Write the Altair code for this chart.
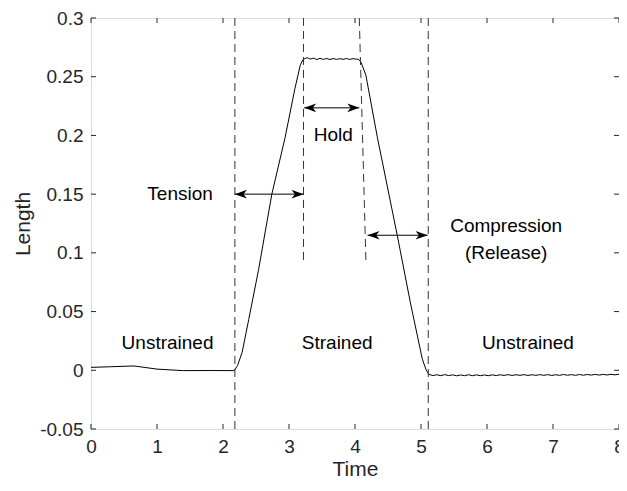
import altair as alt
import pandas as pd

# ---- curve data ----
curve_t = [0.0, 0.3, 0.65, 1.0, 1.4, 1.8, 2.17,
           2.22, 2.29, 2.39, 2.54, 2.74, 2.94, 3.09, 3.17, 3.21, 3.24,
           3.28, 3.32, 3.37, 3.42, 3.47, 3.52, 3.57, 3.62, 3.67, 3.72, 3.77, 3.82, 3.87, 3.92, 3.97, 4.02, 4.05,
           4.09, 4.165, 4.34, 4.64, 4.84, 5.02, 5.08, 5.12,
           5.18, 5.24, 5.30, 5.36, 5.42, 5.48, 5.54, 5.60, 5.66, 5.72, 5.78, 5.84, 5.90, 5.96,
           6.02, 6.08, 6.14, 6.20, 6.26, 6.32, 6.38, 6.44, 6.50, 6.56, 6.62, 6.68, 6.74, 6.80,
           6.86, 6.92, 6.98, 7.04, 7.10, 7.16, 7.22, 7.28, 7.34, 7.40, 7.46, 7.52, 7.58, 7.64,
           7.70, 7.76, 7.82, 7.88, 7.94, 8.0]
curve_y = [0.0025, 0.003, 0.0037, 0.0010, -0.0003, -0.0002, -0.0003,
           0.004, 0.0152, 0.0433, 0.086, 0.150, 0.198, 0.240, 0.2597, 0.2645, 0.2655,
           0.2662, 0.2650, 0.2658, 0.2646, 0.2657, 0.2647, 0.2656, 0.2646, 0.2655, 0.2647, 0.2654, 0.2648, 0.2655, 0.2647, 0.2654, 0.2649, 0.2650,
           0.2625, 0.2513, 0.198, 0.115, 0.0573, 0.0095, 0.000, -0.0035,
           -0.0045, -0.0038, -0.0046, -0.0037, -0.0045, -0.0039, -0.0047, -0.0040, -0.0046, -0.0038, -0.0046, -0.0039, -0.0046, -0.0040,
           -0.0046, -0.0039, -0.0045, -0.0038, -0.0044, -0.0037, -0.0044, -0.0038, -0.0043, -0.0037, -0.0044, -0.0038, -0.0043, -0.0037,
           -0.0043, -0.0037, -0.0044, -0.0038, -0.0043, -0.0036, -0.0042, -0.0037, -0.0043, -0.0036, -0.0042, -0.0036, -0.0041, -0.0035,
           -0.0041, -0.0035, -0.0040, -0.0034, -0.0039, -0.0033]

# ---- dashed marker lines (bottom point -> top point) ----
dash_x1 = [2.18, 3.22, 4.165, 5.11]
dash_y1 = [-0.05, 0.094, 0.094, -0.05]
dash_x2 = [2.18, 3.22, 4.065, 5.11]
dash_y2 = [0.3, 0.3, 0.3, 0.3]

# ---- double-headed arrows ----
arrow_x1 = [2.18, 3.23, 4.19]
arrow_x2 = [3.22, 4.065, 5.10]
arrow_y = [0.150, 0.2235, 0.115]

# ---- annotation texts ----
label_text = ["Tension", "Hold", "Compression", "(Release)", "Unstrained", "Strained", "Unstrained"]
label_x = [1.35, 3.67, 6.29, 6.29, 1.16, 3.73, 6.62]
label_y = [0.150, 0.2005, 0.1225, 0.1003, 0.0236, 0.0236, 0.0236]

# ---- ticks ----
x_ticks = [0, 1, 2, 3, 4, 5, 6, 7, 8]
y_ticks = [-0.05, 0, 0.05, 0.1, 0.15, 0.2, 0.25, 0.3]

FONT = "Liberation Sans"
AX = "#262626"
W, H = 528, 411

xs = alt.Scale(domain=[0, 8], nice=False, zero=False)
ys = alt.Scale(domain=[-0.05, 0.3], nice=False, zero=False)

curve_df = pd.DataFrame({"t": curve_t, "v": curve_y})
dash_df = pd.DataFrame({"x1": dash_x1, "y1": dash_y1, "x2": dash_x2, "y2": dash_y2})
arrow_df = pd.DataFrame({"x1": arrow_x1, "x2": arrow_x2, "y": arrow_y})
heads_df = pd.DataFrame({
    "x": arrow_x1 + arrow_x2,
    "y": arrow_y + arrow_y,
    "dir": ["L"] * len(arrow_x1) + ["R"] * len(arrow_x2),
})
text_df = pd.DataFrame({"txt": label_text, "x": label_x, "y": label_y})
xt_df = pd.DataFrame({"t": x_ticks})
yt_df = pd.DataFrame({"t": y_ticks})

base_x_axis = alt.Axis(values=x_ticks, ticks=False, tickSize=0, domain=False, grid=False,
                       labelFont=FONT, labelFontSize=19, labelColor=AX, labelPadding=8,
                       labelExpr="'' + datum.value", labelFlush=False,
                       title="Time", titleFont=FONT, titleFontSize=21, titleFontWeight="normal",
                       titleColor=AX, titleBaseline="alphabetic", titleY=46)
base_y_axis = alt.Axis(values=y_ticks, ticks=False, tickSize=0, domain=False, grid=False,
                       labelFont=FONT, labelFontSize=19, labelColor=AX, labelPadding=8,
                       labelExpr="'' + datum.value",
                       title="Length", titleFont=FONT, titleFontSize=21, titleFontWeight="normal",
                       titleColor=AX, titlePadding=6)

curve = alt.Chart(curve_df).mark_line(color="black", strokeWidth=1).encode(
    x=alt.X("t:Q", scale=xs, axis=base_x_axis),
    y=alt.Y("v:Q", scale=ys, axis=base_y_axis),
    order="t:Q",
)

dashes = alt.Chart(dash_df).mark_rule(color="#333333", strokeWidth=1, strokeDash=[8, 5]).encode(
    x=alt.X("x1:Q", scale=xs), y=alt.Y("y1:Q", scale=ys),
    x2="x2:Q", y2="y2:Q",
)

shafts = alt.Chart(arrow_df).mark_rule(color="black", strokeWidth=1).encode(
    x=alt.X("x1:Q", scale=xs), x2="x2:Q", y=alt.Y("y:Q", scale=ys),
)

right_head = "M0,0 L-1,-0.36 L-0.72,0 L-1,0.36 Z"
left_head = "M0,0 L1,-0.36 L0.72,0 L1,0.36 Z"
heads = alt.Chart(heads_df).mark_point(filled=True, color="black", opacity=1, size=576, strokeWidth=0).encode(
    x=alt.X("x:Q", scale=xs), y=alt.Y("y:Q", scale=ys),
    shape=alt.Shape("dir:N", scale=alt.Scale(domain=["L", "R"], range=[left_head, right_head]), legend=None),
)

texts = alt.Chart(text_df).mark_text(font=FONT, fontSize=19, color="black", align="center", baseline="middle").encode(
    x=alt.X("x:Q", scale=xs), y=alt.Y("y:Q", scale=ys), text="txt:N",
)

tick_len = 5
xt_bottom = alt.Chart(xt_df).mark_rule(color=AX, strokeWidth=1).encode(
    x=alt.X("t:Q", scale=xs), y=alt.value(H), y2=alt.value(H - tick_len))
xt_top = alt.Chart(xt_df).mark_rule(color=AX, strokeWidth=1).encode(
    x=alt.X("t:Q", scale=xs), y=alt.value(0), y2=alt.value(tick_len))
yt_left = alt.Chart(yt_df).mark_rule(color=AX, strokeWidth=1).encode(
    y=alt.Y("t:Q", scale=ys), x=alt.value(0), x2=alt.value(tick_len))
yt_right = alt.Chart(yt_df).mark_rule(color=AX, strokeWidth=1).encode(
    y=alt.Y("t:Q", scale=ys), x=alt.value(W), x2=alt.value(W - tick_len))

chart = alt.layer(curve, dashes, shafts, heads, texts, xt_bottom, xt_top, yt_left, yt_right).properties(
    width=W, height=H,
    autosize=alt.AutoSizeParams(type="none"),
    padding={"left": 83, "top": 10, "right": 0, "bottom": 49},
).configure_view(stroke=AX, strokeWidth=1).configure(background="white")

chart.save("out.html", embed_options={"renderer": "svg", "actions": False})
